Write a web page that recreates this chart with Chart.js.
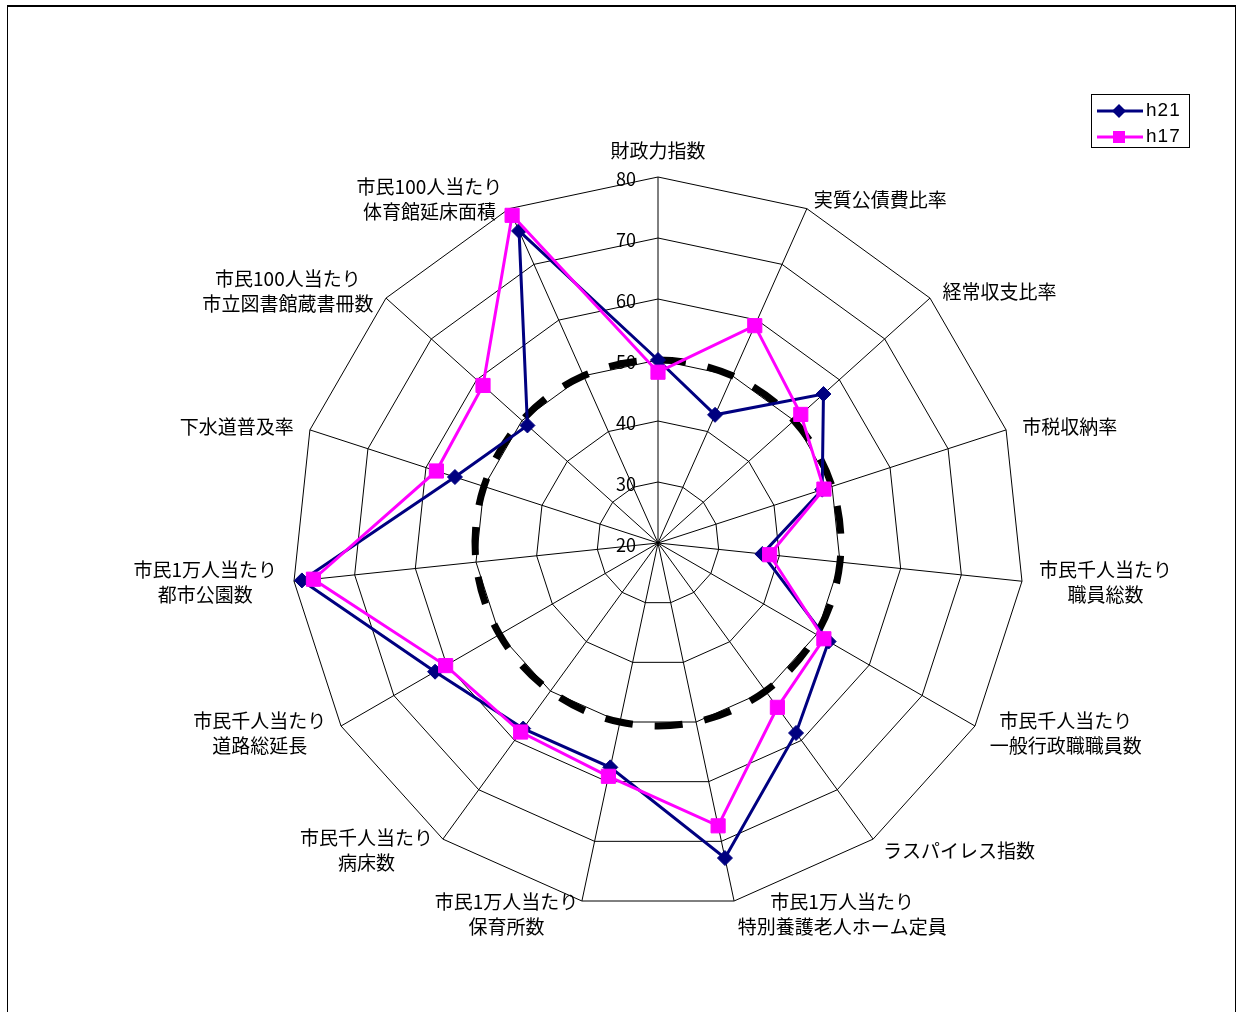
<!DOCTYPE html>
<html lang="ja">
<head>
<meta charset="UTF-8">
<title>財政指標レーダー</title>
<script src="https://cdn.jsdelivr.net/npm/chart.js"></script>
<style>
  body {
    margin: 0;
    padding: 0;
    background: #ffffff;
    font-family: "Noto Sans CJK JP", sans-serif;
  }
  .frame {
    position: absolute;
    left: 7px;
    top: 5px;
    width: 1227px;
    height: 1100px;
    border: 1px solid #000;
    border-top-width: 2px;
  }
  #chart {
    position: absolute;
    left: 0;
    top: 0;
  }
  .legend {
    position: absolute;
    left: 1091px;
    top: 94px;
    width: 97px;
    height: 52px;
    border: 1px solid #000;
    background: #fff;
    font-family: "Liberation Sans", Arial, sans-serif;
    font-size: 19px;
    letter-spacing: 1px;
  }
  .legend .row {
    position: absolute;
    left: 4px;
    height: 26px;
    line-height: 26px;
  }
  .legend svg {
    vertical-align: middle;
    margin-right: 2px;
  }
</style>
</head>
<body>
<div class="frame"></div>
<canvas id="chart" width="1237" height="1012"></canvas>
<div class="legend" id="legend"></div>

<script>
// 項目名（時計回り、上から）
var labels = [
  ['財政力指数'],
  ['実質公債費比率'],
  ['経常収支比率'],
  ['市税収納率'],
  ['市民千人当たり', '職員総数'],
  ['市民千人当たり', '一般行政職職員数'],
  ['ラスパイレス指数'],
  ['市民1万人当たり', '特別養護老人ホーム定員'],
  ['市民1万人当たり', '保育所数'],
  ['市民千人当たり', '病床数'],
  ['市民千人当たり', '道路総延長'],
  ['市民1万人当たり', '都市公園数'],
  ['下水道普及率'],
  ['市民100人当たり', '市立図書館蔵書冊数'],
  ['市民100人当たり', '体育館延床面積']
];

var h21 = [50, 43, 56.5, 48.3, 37.2, 52.3, 58.5, 72.8, 57.6, 57.6, 62.2, 78.7, 55, 48.8, 76];
var h17 = [48, 59, 51.5, 48.6, 38.4, 51.4, 53.3, 67.4, 59.1, 58.3, 60.2, 76.8, 58.2, 58.6, 78.8];
var average = [50, 50, 50, 50, 50, 50, 50, 50, 50, 50, 50, 50, 50, 50, 50];

var scaleMin = 20;
var scaleMax = 80;
var scaleStep = 10;

// 目盛り値と項目名をExcel風に描く
var excelLabels = {
  id: 'excelLabels',
  beforeDatasetsDraw: function(chart) {
    var s = chart.scales.r;
    var ctx = chart.ctx;
    ctx.save();
    ctx.fillStyle = '#000';
    ctx.font = '18px "Noto Sans CJK JP"';
    ctx.textAlign = 'right';
    ctx.textBaseline = 'middle';
    s.ticks.forEach(function(t) {
      var p = s.getPointPositionForValue(0, t.value);
      ctx.fillText(String(t.value), p.x - 22, p.y + 2);
    });

    ctx.font = '19px "Noto Sans CJK JP"';
    ctx.textAlign = 'center';
    var lh = 25;
    labels.forEach(function(lines, i) {
      var a = s.getIndexAngle(i);
      var end = s.getPointPositionForValue(i, scaleMax);
      var sn = Math.sin(a), cs = Math.cos(a);
      var w = Math.max.apply(null, lines.map(function(l) { return ctx.measureText(l).width; }));
      var h = lines.length * lh;
      var cx, cy;
      if (Math.abs(sn) < 0.05) {
        cx = end.x;
        cy = end.y - 14 - h / 2;
      } else {
        cx = sn > 0 ? end.x + 17 * sn + w / 2 : end.x + 17 * sn - w / 2;
        cy = end.y - cs * (cs > 0 ? 10 : 14);
      }
      lines.forEach(function(l, k) {
        ctx.fillText(l, cx, cy - h / 2 + lh * (k + 0.5));
      });
    });
    ctx.restore();
  }
};

var ctx = document.getElementById('chart').getContext('2d');
var chart = new Chart(ctx, {
  type: 'radar',
  data: {
    labels: labels,
    datasets: [{
      label: 'h21',
      data: h21,
      borderColor: '#000080',
      backgroundColor: '#000080',
      borderWidth: 3,
      fill: false,
      pointStyle: 'rectRot',
      pointRadius: 7.5,
      pointBorderWidth: 1,
      pointBackgroundColor: '#000080',
      pointBorderColor: '#000080',
      order: 1
    }, {
      label: 'h17',
      data: h17,
      borderColor: '#ff00ff',
      backgroundColor: '#ff00ff',
      borderWidth: 3,
      fill: false,
      pointStyle: 'rect',
      pointRadius: 10,
      pointBorderWidth: 1,
      pointBackgroundColor: '#ff00ff',
      pointBorderColor: '#ff00ff',
      order: 0
    }, {
      label: 'average',
      data: average,
      borderColor: '#000',
      borderWidth: 7,
      borderDash: [28, 22],
      tension: 0.345,
      fill: false,
      pointRadius: 0,
      order: 2
    }]
  },
  options: {
    responsive: false,
    animation: false,
    layout: {
      padding: { left: 292, right: 213, top: 177, bottom: 103 }
    },
    plugins: {
      legend: { display: false },
      tooltip: { enabled: false }
    },
    scales: {
      r: {
        min: scaleMin,
        max: scaleMax,
        ticks: { stepSize: scaleStep, display: false },
        grid: { color: '#000', lineWidth: 1 },
        angleLines: { color: '#000', lineWidth: 1 },
        pointLabels: { display: false }
      }
    }
  },
  plugins: [excelLabels]
});

// 凡例
var legendItems = [
  { name: 'h21', color: '#000080', marker: 'diamond' },
  { name: 'h17', color: '#ff00ff', marker: 'square' }
];
var legendBox = document.getElementById('legend');
legendItems.forEach(function(it, i) {
  var m = it.marker === 'diamond'
    ? '<polygon points="23,3 30,10 23,17 16,10" fill="' + it.color + '"/>'
    : '<rect x="17" y="4" width="12" height="12" fill="' + it.color + '"/>';
  var row = document.createElement('div');
  row.className = 'row';
  row.style.top = (2 + i * 26) + 'px';
  row.innerHTML = '<svg width="48" height="20"><line x1="1" y1="10" x2="47" y2="10" stroke="' + it.color + '" stroke-width="3"/>' + m + '</svg>' + it.name;
  legendBox.appendChild(row);
});
</script>
</body>
</html>
